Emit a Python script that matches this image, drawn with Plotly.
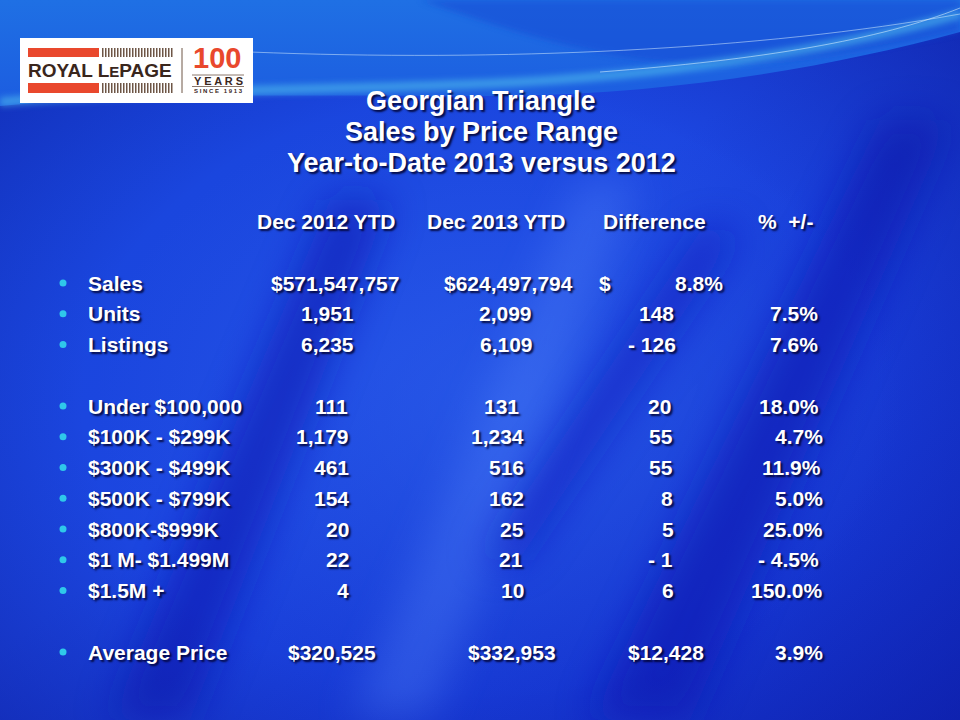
import base64
import plotly.graph_objects as go

# ---------------- data ----------------
title_lines = ["Georgian Triangle", "Sales by Price Range", "Year-to-Date 2013 versus 2012"]
headers = ["Dec 2012 YTD", "Dec 2013 YTD", "Difference", "%\u00a0\u00a0+/-"]
labels = ["Sales", "Units", "Listings", "Under $100,000", "$100K - $299K", "$300K - $499K",
          "$500K - $799K", "$800K-$999K", "$1 M- $1.499M", "$1.5M +", "Average Price"]
ytd_2012 = ["$571,547,757", "1,951", "6,235", "111", "1,179", "461", "154", "20", "22", "4", "$320,525"]
ytd_2013 = ["$624,497,794", "2,099", "6,109", "131", "1,234", "516", "162", "25", "21", "10", "$332,953"]
difference = ["$", "148", "- 126", "20", "55", "55", "8", "5", "- 1", "6", "$12,428"]
pct_change = ["8.8%", "7.5%", "7.6%", "18.0%", "4.7%", "11.9%", "5.0%", "25.0%", "- 4.5%", "150.0%", "3.9%"]

# ---------------- layout / style ----------------
W, H = 960, 720
row_slot = [0, 1, 2, 4, 5, 6, 7, 8, 9, 10, 12]
row_y = [283 + s * 30.75 for s in row_slot]
header_y = 221
header_cx = [326, 496, 654, 785]
label_x = 87
bullet_x = 63
c1_right = [400, 355, 355, 349, 350, 350, 350, 350, 350, 350, 377]
c2_right = [574, 533, 534, 520, 525, 525, 525, 525, 524, 525, 557]
c3_right = [None, 675, 677, 672, 674, 674, 674, 675, 674, 675, 705]
c4_right = [724, 819, 819, 820, 824, 822, 824, 824, 820, 824, 824]
sales_dollar_left = 598

FONT = "Liberation Sans, Arial, sans-serif"
SHADOW = "2px 2px 2px rgba(0,0,40,0.85)"
cell_font = dict(family=FONT, size=21, color="white", weight="bold", shadow=SHADOW)
title_font = dict(family=FONT, size=27, color="white", weight="bold", shadow=SHADOW)

svg = f'''<svg xmlns="http://www.w3.org/2000/svg" width="{W}" height="{H}" viewBox="0 0 {W} {H}">
<defs>
 <linearGradient id="base" x1="0" y1="0" x2="1" y2="1">
  <stop offset="0" stop-color="#1846dc"/>
  <stop offset="0.45" stop-color="#1c46e0"/>
  <stop offset="1" stop-color="#122cc6"/>
 </linearGradient>
 <radialGradient id="glow" cx="0.52" cy="0.55" r="0.42">
  <stop offset="0" stop-color="#3066ee" stop-opacity="0.55"/>
  <stop offset="1" stop-color="#3066ee" stop-opacity="0"/>
 </radialGradient>
 <radialGradient id="vign" cx="0.5" cy="0.55" r="0.75">
  <stop offset="0.55" stop-color="#0a1490" stop-opacity="0"/>
  <stop offset="1" stop-color="#0a1490" stop-opacity="0.55"/>
 </radialGradient>
 <linearGradient id="sky" x1="0" y1="0" x2="0" y2="1">
  <stop offset="0" stop-color="#1f70e4"/>
  <stop offset="1" stop-color="#1c5ce0"/>
 </linearGradient>
 <filter id="blur" x="-30%" y="-30%" width="160%" height="160%"><feGaussianBlur stdDeviation="20"/></filter>
 <filter id="blur2" x="-10%" y="-50%" width="120%" height="200%"><feGaussianBlur stdDeviation="3"/></filter>
 <pattern id="stripes" width="3" height="12" patternUnits="userSpaceOnUse"><rect width="1.5" height="12" fill="#6e5646"/></pattern>
</defs>
<rect width="{W}" height="{H}" fill="url(#base)"/>
<rect width="{W}" height="{H}" fill="url(#glow)"/>
<g filter="url(#blur)" opacity="0.6">
 <polygon points="330,200 390,200 190,720 110,720" fill="#0a12b0"/>
 <polygon points="880,120 950,120 690,720 590,720" fill="#0a12b0"/>
 <polygon points="700,230 740,230 520,560 480,560" fill="#0a14b8"/>
</g>
<g filter="url(#blur)" opacity="0.3">
 <polygon points="580,180 640,180 430,720 350,720" fill="#5a8cff"/>
</g>
<rect width="{W}" height="{H}" fill="url(#vign)"/>
<path d="M0,0 H960 V32 C820,70 660,96 480,96 C300,96 150,92 0,106 Z" fill="url(#sky)"/>
<path d="M420,0 C520,35 610,62 700,64 C800,64 880,48 960,32 V0 Z" fill="#1848d4" opacity="0.55" filter="url(#blur2)"/>
<path d="M0,102 C180,88 380,90 520,82 C700,72 850,45 960,14" stroke="#5ad0f0" stroke-width="9" fill="none" opacity="0.5" filter="url(#blur2)"/>
<path d="M250,52 C500,62 760,50 960,14" stroke="#e0f4ff" stroke-width="1" fill="none" opacity="0.5"/>
<path d="M600,72 C760,60 880,40 960,8" stroke="#e0f4ff" stroke-width="1" fill="none" opacity="0.55"/>
<rect x="20" y="38" width="233" height="65" fill="#ffffff"/>
<rect x="28" y="48" width="71" height="9" fill="#e9482d"/>
<rect x="28" y="83" width="71" height="10" fill="#e9482d"/>
<rect x="102" y="48" width="71" height="9" fill="url(#stripes)"/>
<rect x="102" y="83" width="71" height="10" fill="url(#stripes)"/>
<line x1="182" y1="48" x2="182" y2="93" stroke="#6e5646" stroke-width="1"/>
<line x1="192" y1="75" x2="244" y2="75" stroke="#6e5646" stroke-width="0.8"/>
<line x1="192" y1="86.5" x2="244" y2="86.5" stroke="#6e5646" stroke-width="0.8"/>
</svg>'''
bg_uri = "data:image/svg+xml;base64," + base64.b64encode(svg.encode()).decode()

fig = go.Figure()

# bullets
fig.add_trace(go.Scatter(
    x=[bullet_x] * len(labels), y=row_y, mode="markers",
    marker=dict(size=7, color="#2fc8ea", line=dict(width=0)),
    hoverinfo="skip", showlegend=False))

ann = []
def add(text, x, y, xanchor, font):
    ann.append(dict(text=text, x=x, y=y, xref="x", yref="y", xanchor=xanchor,
                    yanchor="middle", showarrow=False, font=font, borderpad=0))

for i, t in enumerate(title_lines):
    add(t, 481, 101 + i * 31, "center", title_font)
for i, h in enumerate(headers):
    add(h, header_cx[i], header_y, "center", cell_font)

for i, lab in enumerate(labels):
    y = row_y[i]
    add(lab, label_x, y, "left", cell_font)
    add(ytd_2012[i], c1_right[i], y, "right", cell_font)
    add(ytd_2013[i], c2_right[i], y, "right", cell_font)
    if c3_right[i] is None:
        add(difference[i], sales_dollar_left, y, "left", cell_font)
    else:
        add(difference[i], c3_right[i], y, "right", cell_font)
    add(pct_change[i], c4_right[i], y, "right", cell_font)

# logo text
brown = "#3a261c"
add("ROYAL L<span style='font-size:15px'>E</span>PAGE", 100, 70, "center",
    dict(family=FONT, size=19, color=brown, weight="bold"))
add("100", 217, 58, "center", dict(family=FONT, size=29, color="#e9482d", weight="bold"))
add("Y E A R S", 218, 81, "center", dict(family=FONT, size=11, color=brown, weight="bold"))
add("S I N C E\u2002 1 9 1 3", 218, 91, "center", dict(family=FONT, size=6, color=brown, weight="bold"))

fig.update_layout(
    width=W, height=H, margin=dict(l=0, r=0, t=0, b=0),
    paper_bgcolor="#1a40d0", plot_bgcolor="rgba(0,0,0,0)",
    xaxis=dict(range=[0, W], visible=False, fixedrange=True),
    yaxis=dict(range=[H, 0], visible=False, fixedrange=True),
    annotations=ann,
    images=[dict(source=bg_uri, xref="paper", yref="paper", x=0, y=1, sizex=1, sizey=1,
                 sizing="stretch", xanchor="left", yanchor="top", layer="below")],
    showlegend=False,
)
fig.write_html("out.html", config={"displayModeBar": False},
               post_script="document.body.style.margin='0';document.body.style.overflow='hidden';")
